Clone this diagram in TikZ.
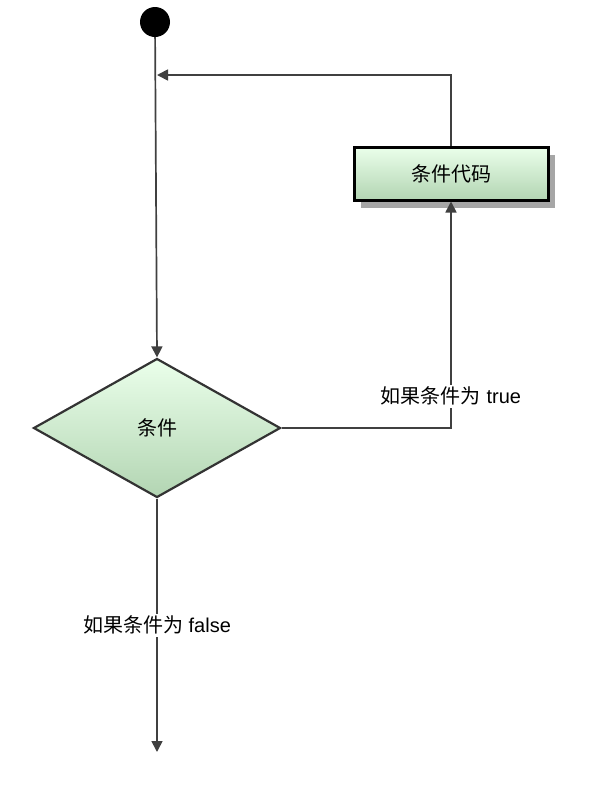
\documentclass[tikz,border=0pt]{standalone}
\usepackage{fontspec}
\setmainfont{Liberation Sans}
\newfontfamily\cjk{Noto Sans CJK SC}
\usepackage{tikz}
\usetikzlibrary{arrows.meta,positioning,shapes.geometric,shadows}

\begin{document}
\begin{tikzpicture}[x=1pt,y=-1pt,>={Triangle[length=11pt,width=11pt]},
    flow/.style={draw=black!75,line width=1.7pt},
    bigtext/.style={font=\fontsize{20}{23}\selectfont},
    greenfill/.style={top color=green!8!white,bottom color=green!45!black!30!white},
    codebox/.style={draw=black,line width=3pt,greenfill,minimum width=194pt,
                    minimum height=53pt,inner sep=0pt,bigtext,
                    drop shadow={shadow xshift=7pt,shadow yshift=-8pt,fill=black!35,opacity=1}},
    cond/.style={diamond,draw=black!80,line width=2.2pt,greenfill,aspect=1.78,
                 minimum width=247pt,minimum height=139pt,inner sep=0pt,bigtext},
    lbl/.style={fill=white,inner sep=2pt,bigtext}]
  \useasboundingbox (0,0) rectangle (614,804);
  % start point
  \node[circle,fill=black,minimum size=30pt,inner sep=0pt] (start) at (155,22) {};
  % condition and body
  \node[cond] (test) at (157,428) {\cjk 条件};
  \node[codebox] (body) at (451,173.5) {\cjk 条件代码};
  \coordinate (join) at (157,75);
  \coordinate (done) at (157,752);
  % connectors
  \draw[flow,->] (start) -- (test.north);
  \draw[flow,->] (body.north) |- (join);
  \draw[flow,->] (test.east) -| node[lbl,pos=0.57] {{\cjk 如果条件为} true} (body.south);
  \draw[flow,->] (test.south) -- node[lbl,pos=0.5] {{\cjk 如果条件为} false} (done);
\end{tikzpicture}
\end{document}
